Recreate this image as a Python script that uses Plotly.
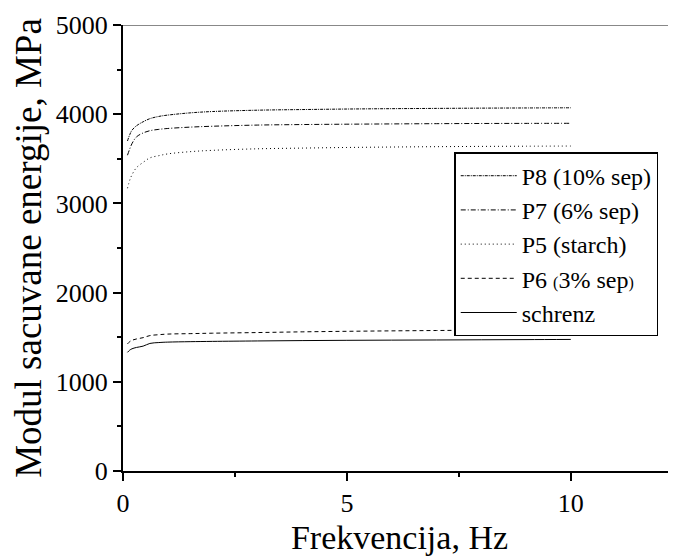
import plotly.graph_objects as go

# frekvencija (Hz)
frekvencija = [0.1, 0.15, 0.2, 0.3, 0.45, 0.6, 0.8, 1.0, 1.5, 2, 3, 4, 5, 6, 7, 8, 9, 10]

# modul sacuvane energije (MPa)
p8 = [3700, 3770, 3820, 3870, 3915, 3950, 3975, 3990, 4015, 4030, 4045, 4052, 4058, 4062, 4065, 4068, 4070, 4072]
p7 = [3540, 3610, 3670, 3745, 3790, 3815, 3830, 3840, 3855, 3865, 3878, 3884, 3888, 3891, 3894, 3896, 3897, 3898]
p5 = [3170, 3260, 3320, 3400, 3460, 3510, 3535, 3555, 3580, 3595, 3612, 3620, 3627, 3632, 3636, 3639, 3641, 3643]
p6 = [1425, 1450, 1465, 1480, 1495, 1518, 1528, 1535, 1540, 1545, 1552, 1560, 1566, 1571, 1575, 1579, 1582, 1585]
schrenz = [1330, 1355, 1370, 1385, 1400, 1430, 1440, 1445, 1450, 1453, 1458, 1462, 1465, 1467, 1469, 1471, 1473, 1475]

x_ticks = [0, 5, 10]
y_ticks = [0, 1000, 2000, 3000, 4000, 5000]

FONT = "Liberation Serif"
small = "<span style='font-size:16px'>{}</span>"

serije = [
    ("P8 (10% sep)", p8, "3px,1px,1px,1px"),
    ("P7 (6% sep)", p7, "5px,2px,1px,2px"),
    ("P5 (starch)", p5, "1px,3px"),
    ("P6 " + small.format("(") + "3% sep" + small.format(")"), p6, "4px,3px"),
    ("schrenz", schrenz, "solid"),
]

fig = go.Figure()
for naziv, vrijednosti, crta in serije:
    fig.add_trace(go.Scatter(
        x=frekvencija, y=vrijednosti,
        mode="lines", name=naziv,
        line=dict(color="black", width=1, dash=crta, shape="spline"),
    ))

osa = dict(
    showgrid=False, zeroline=False, automargin=False,
    showline=True, linecolor="black", linewidth=2,
    ticks="outside", ticklen=8, tickwidth=1.5, tickcolor="black",
    tickfont=dict(family=FONT, size=26, color="black"),
)

# stranica ima 8px margine u body, pa je figura manja za 8px
fig.update_layout(
    width=668, height=548,
    margin=dict(l=115, r=0, t=17, b=85, autoexpand=False),
    paper_bgcolor="white", plot_bgcolor="white",
    font=dict(family=FONT, color="black", size=26),
    showlegend=True,
    legend=dict(
        x=0.599, y=0.715, xanchor="left", yanchor="top",
        bordercolor="black", borderwidth=1.5,
        font=dict(family=FONT, size=24, color="black"),
        itemwidth=56, tracegroupgap=0,
        bgcolor="white",
    ),
    xaxis=dict(
        osa, range=[0, 12.35], tickvals=x_ticks,
        minor=dict(tickvals=[2.5, 7.5], ticks="outside", ticklen=4, tickwidth=1.5, tickcolor="black"),
        title=dict(text="Frekvencija, Hz", font=dict(family=FONT, size=34, color="black")),
    ),
    yaxis=dict(
        osa, range=[0, 5000], tickvals=y_ticks,
        minor=dict(tickvals=[500, 1500, 2500, 3500, 4500], ticks="outside", ticklen=4,
                   tickwidth=1.5, tickcolor="black"),
        title=dict(text="Modul sacuvane energije, MPa", font=dict(family=FONT, size=37, color="black")),
    ),
    shapes=[dict(type="line", xref="paper", yref="y", x0=0, x1=1, y0=5000, y1=5000,
                 line=dict(color="#888888", width=2))],
)

fig.write_html("out.html")
